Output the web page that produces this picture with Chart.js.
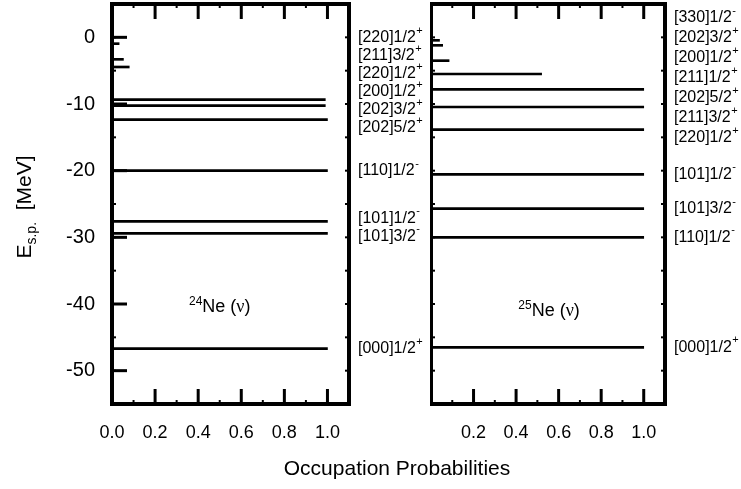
<!DOCTYPE html>
<html lang="en">
<head>
<meta charset="UTF-8">
<title>Single-particle levels of 24Ne and 25Ne</title>
<script src="https://cdn.jsdelivr.net/npm/chart.js@4"></script>
<style>
    * { margin: 0; padding: 0; box-sizing: border-box; }
    body { background: #fff; width: 741px; height: 489px; overflow: hidden; font-family: Arial, "Liberation Sans", sans-serif; }
    #wrap { position: relative; width: 741px; height: 489px; }
    #left { position: absolute; left: 0; top: 0; }
    #right { position: absolute; left: 430px; top: 0; }
    #xtitle { position: absolute; left: 0; width: 794px; top: 456px; text-align: center; font-size: 21px; color: #000; }
</style>
</head>
<body>
<div id="wrap">
    <canvas id="left" width="430" height="489"></canvas>
    <canvas id="right" width="311" height="489"></canvas>
    <div id="xtitle">Occupation Probabilities</div>
</div>
<script>
// 24Ne neutron levels (MeV) and occupation probabilities
const ne24Energy = [-0.95, -3.3, -4.45, -9.35, -10.25, -12.35, -20.0, -27.6, -29.4, -46.7];
const ne24Occ    = [0.033, 0.053, 0.08, 0.99, 0.99, 1.0, 1.0, 1.0, 1.0, 1.0];
const ne24Labels = [['[220]1/2', '+'], ['[211]3/2', '+'], ['[220]1/2', '+'], ['[200]1/2', '+'],
                    ['[202]3/2', '+'], ['[202]5/2', '+'], ['[110]1/2', '-'], ['[101]1/2', '-'],
                    ['[101]3/2', '-'], ['[000]1/2', '+']];

// 25Ne neutron levels
const ne25Energy = [-0.45, -1.2, -3.5, -5.5, -7.8, -10.45, -13.85, -20.55, -25.7, -30.0, -46.5];
const ne25Occ    = [0.04, 0.055, 0.085, 0.52, 1.0, 1.0, 1.0, 1.0, 1.0, 1.0, 1.0];
const ne25Labels = [['[330]1/2', '-'], ['[202]3/2', '+'], ['[200]1/2', '+'], ['[211]1/2', '+'],
                    ['[202]5/2', '+'], ['[211]3/2', '+'], ['[220]1/2', '+'], ['[101]1/2', '-'],
                    ['[101]3/2', '-'], ['[110]1/2', '-'], ['[000]1/2', '+']];

// ticks
const yTicks = [0, -10, -20, -30, -40, -50];
const yMinor = [5, -5, -15, -25, -35, -45, -55];
const xTicksLeft = [0, 0.2, 0.4, 0.6, 0.8, 1.0];
const xTicksRight = [0.2, 0.4, 0.6, 0.8, 1.0];
const xMinor = [0.1, 0.3, 0.5, 0.7, 0.9];

const ARIAL = 'Arial, "Liberation Sans"';

// spread labels so they don't overlap (groups centred on their levels)
function spread(ys, gap, top) {
    let groups = ys.map(v => ({ sum: v, n: 1 }));
    const start = g => Math.max(top, g.sum / g.n - (g.n - 1) * gap / 2);
    let again = true;
    while (again) {
        again = false;
        for (let i = 0; i < groups.length - 1; i++) {
            const g = groups[i], h = groups[i + 1];
            if (start(h) - (start(g) + (g.n - 1) * gap) < gap) {
                groups.splice(i, 2, { sum: g.sum + h.sum, n: g.n + h.n });
                again = true;
                break;
            }
        }
    }
    const out = [];
    groups.forEach(g => { for (let k = 0; k < g.n; k++) out.push(start(g) + k * gap); });
    return out;
}

const framePlugin = {
    id: 'frame',
    afterDraw(chart, args, o) {
        const { ctx, chartArea: a, scales: { x, y } } = chart;
        ctx.save();
        ctx.strokeStyle = '#000';
        ctx.fillStyle = '#000';
        const seg = (x1, y1, x2, y2) => { ctx.beginPath(); ctx.moveTo(x1, y1); ctx.lineTo(x2, y2); ctx.stroke(); };

        // long ticks
        ctx.lineWidth = 3;
        xTicksRight.forEach(v => {
            const px = x.getPixelForValue(v);
            seg(px, a.bottom, px, a.bottom - 15);
            seg(px, a.top, px, a.top + 15);
        });
        if (o.yAxis) {
            yTicks.forEach(v => {
                const py = y.getPixelForValue(v);
                seg(a.left, py, a.left + 15, py);
            });
        }
        // small ticks
        ctx.lineWidth = 2;
        xMinor.forEach(v => {
            const px = x.getPixelForValue(v);
            seg(px, a.bottom, px, a.bottom - 4);
            seg(px, a.top, px, a.top + 4);
        });
        yTicks.concat(yMinor).forEach(v => {
            const py = y.getPixelForValue(v);
            seg(a.left, py, a.left + 4, py);
            seg(a.right, py, a.right - 4, py);
        });

        // frame
        ctx.lineWidth = 4;
        ctx.strokeRect(a.left, a.top, a.right - a.left, a.bottom - a.top);

        // y tick labels and title
        if (o.yAxis) {
            ctx.font = '20px ' + ARIAL;
            ctx.textAlign = 'right';
            ctx.textBaseline = 'middle';
            yTicks.forEach(v => ctx.fillText(String(v), a.left - 17, y.getPixelForValue(v)));

            ctx.save();
            ctx.textAlign = 'left';
            ctx.textBaseline = 'alphabetic';
            ctx.translate(31, 207);
            ctx.rotate(-Math.PI / 2);
            const bits = [['E', '21px ' + ARIAL, 0], ['s.p.', '14px ' + ARIAL, 5], ['  [MeV]', '21px ' + ARIAL, 0]];
            let tw = 0;
            bits.forEach(b => { ctx.font = b[1]; tw += ctx.measureText(b[0]).width; });
            let bx = -tw / 2;
            bits.forEach(b => {
                ctx.font = b[1];
                ctx.fillText(b[0], bx, b[2]);
                bx += ctx.measureText(b[0]).width;
            });
            ctx.restore();
        }

        // level labels on the right
        const ys = spread(o.energies.map(e => y.getPixelForValue(e)), o.gap, 10);
        ctx.textBaseline = 'middle';
        ctx.textAlign = 'left';
        o.labels.forEach((lab, i) => {
            const lx = a.right + 9;
            ctx.font = '16px ' + ARIAL;
            ctx.fillText(lab[0], lx, ys[i]);
            const w = ctx.measureText(lab[0]).width;
            ctx.font = '11px ' + ARIAL;
            ctx.fillText(lab[1], lx + w + 0.5, ys[i] - 7);
        });

        // nucleus label
        const cx = x.getPixelForValue(o.tag.x), cy = y.getPixelForValue(o.tag.y);
        const parts = [
            [o.tag.mass, '12px ' + ARIAL, -7],
            ['Ne (', '18px ' + ARIAL, 0],
            ['\u03BD', '18px "Liberation Serif", "Times New Roman", serif', 0],
            [')', '18px ' + ARIAL, 0]
        ];
        let total = 0;
        parts.forEach(p => { ctx.font = p[1]; total += ctx.measureText(p[0]).width; });
        let tx = cx - total / 2;
        ctx.textBaseline = 'alphabetic';
        parts.forEach(p => {
            ctx.font = p[1];
            ctx.fillText(p[0], tx, cy + 7 + p[2]);
            tx += ctx.measureText(p[0]).width;
        });
        ctx.restore();
    }
};

function makePanel(id, energies, occ, labels, xTicks, opts) {
    const points = energies.map((e, i) => ({ x: occ[i], y: e }));
    return new Chart(document.getElementById(id), {
        type: 'bar',
        data: {
            datasets: [{
                data: points,
                backgroundColor: '#000',
                borderWidth: 0,
                barThickness: 2
            }]
        },
        options: {
            indexAxis: 'y',
            responsive: false,
            animation: false,
            layout: { padding: opts.padding },
            plugins: {
                legend: { display: false },
                tooltip: { enabled: false },
                frame: {
                    energies: energies,
                    labels: labels,
                    gap: opts.gap,
                    yAxis: opts.yAxis,
                    tag: opts.tag
                }
            },
            scales: {
                x: {
                    type: 'linear',
                    min: 0,
                    max: 1.1,
                    grid: { display: false, drawTicks: false },
                    border: { display: false },
                    afterBuildTicks: s => { s.ticks = xTicks.map(v => ({ value: v })); },
                    afterFit: s => { s.height = 85; },
                    ticks: {
                        padding: 18,
                        color: '#000',
                        autoSkip: false,
                        minRotation: 0,
                        maxRotation: 0,
                        font: { family: ARIAL, size: 18 },
                        callback: v => Number(v).toFixed(1)
                    }
                },
                y: {
                    type: 'linear',
                    display: false,
                    offset: false,
                    min: -55,
                    max: 5
                }
            }
        },
        plugins: [framePlugin]
    });
}

makePanel('left', ne24Energy, ne24Occ, ne24Labels, xTicksLeft, {
    padding: { top: 4, right: 81, left: 112, bottom: 0 },
    gap: 18,
    yAxis: true,
    tag: { mass: '24', x: 0.5, y: -40.1 }
});

makePanel('right', ne25Energy, ne25Occ, ne25Labels, xTicksRight, {
    padding: { top: 4, right: 76, left: 1, bottom: 0 },
    gap: 20,
    yAxis: false,
    tag: { mass: '25', x: 0.555, y: -40.7 }
});
</script>
</body>
</html>
